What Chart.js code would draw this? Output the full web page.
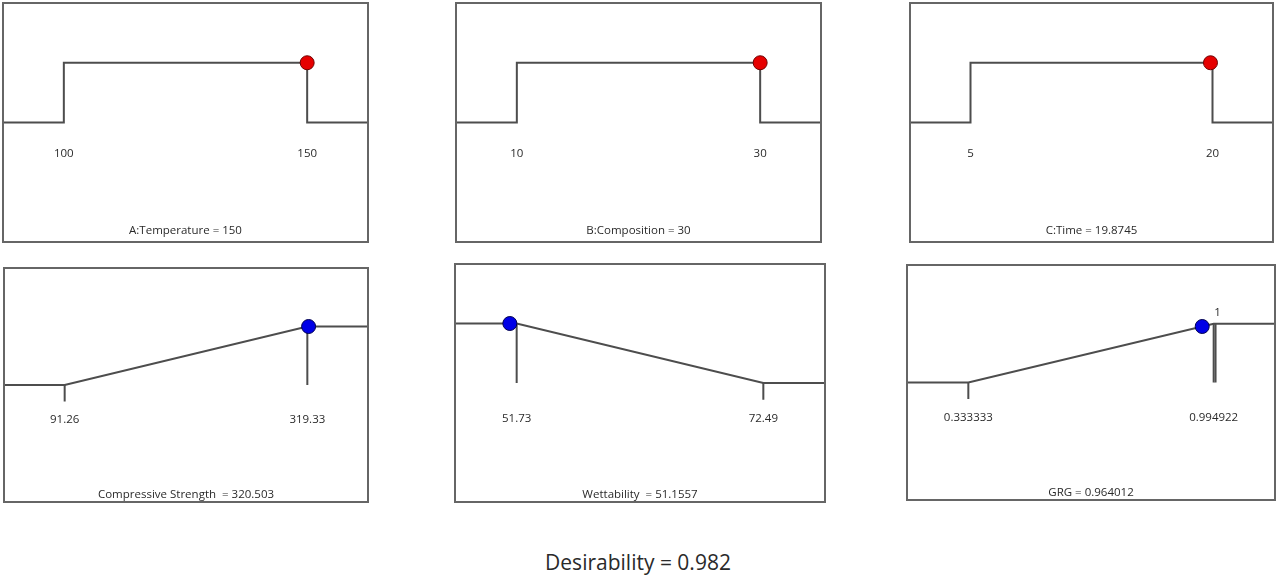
<!DOCTYPE html>
<html>
<head>
<meta charset="utf-8">
<script src="https://cdn.jsdelivr.net/npm/chart.js@4.4.1/dist/chart.umd.min.js"></script>
<style>
  html, body { margin: 0; padding: 0; background: #fff; }
  body { width: 1276px; height: 579px; position: relative; overflow: hidden; font-family: "Open Sans", sans-serif; }
  .panel { position: absolute; }
  #overall { position: absolute; left: 0; width: 1276px; top: 547px; text-align: center; font-size: 21px; line-height: 30px; color: #2a2a2a; }
</style>
</head>
<body>
<div id="overall"></div>
<script>
// Factor settings (in-range desirability ramps)
const factorNames  = ['A:Temperature', 'B:Composition', 'C:Time'];
const factorLow    = [100, 10, 5];
const factorHigh   = [150, 30, 20];
const factorValue  = [150, 30, 19.8745];

// Response goals
const responseNames  = ['Compressive Strength', 'Wettability', 'GRG'];
const responseTitles = ['Compressive Strength  = ', 'Wettability  = ', 'GRG = '];
const responseLow    = [91.26, 51.73, 0.333333];
const responseHigh   = [319.33, 72.49, 0.994922];
const responseGoal   = ['maximize', 'minimize', 'maximize'];
const responseValue  = [320.503, 51.1557, 0.964012];
const responseLimit  = [null, null, 1];

const overallDesirability = 0.982;

// Panel boxes on the page: [left, top, right, bottom]
const boxes = [
  [3, 3, 368, 242], [456, 3, 821, 242], [910, 3, 1273, 242],
  [4, 268, 368, 502], [455, 264, 825, 502], [907, 265, 1275, 500]
];

const LINE = '#4d4d4d';
const FRAME = '#666';
const TEXT = '#2a2a2a';
const PAD = 2;

function desirability(goal, low, high, v) {
  let d = goal === 'maximize' ? (v - low) / (high - low) : (high - v) / (high - low);
  return Math.max(0, Math.min(1, d));
}

function panelPlugin(spec) {
  return {
    id: 'panelDecor',
    afterDatasetsDraw(chart) {
      const { ctx, chartArea: a, scales: { x, y } } = chart;
      ctx.save();
      ctx.strokeStyle = FRAME;
      ctx.lineWidth = 2;
      ctx.strokeRect(a.left, a.top, a.right - a.left, a.bottom - a.top);
      ctx.fillStyle = TEXT;
      ctx.font = '11.5px "Open Sans", sans-serif';
      ctx.textAlign = 'center';
      ctx.textBaseline = 'middle';
      spec.labels.forEach(l => {
        ctx.fillText(l.text, x.getPixelForValue(l.x) + (l.dx || 0), y.getPixelForValue(l.y));
      });
      ctx.fillText(spec.title, (a.left + a.right) / 2, y.getPixelForValue(spec.titleY));
      ctx.restore();
    }
  };
}

function makePanel(i, spec) {
  const [l, t, r, b] = boxes[i];
  const w = r - l + PAD * 2, h = b - t + PAD * 2;
  const div = document.createElement('div');
  div.className = 'panel';
  div.style.left = (l - PAD) + 'px';
  div.style.top = (t - PAD) + 'px';
  const cv = document.createElement('canvas');
  cv.width = w; cv.height = h;
  cv.style.width = w + 'px'; cv.style.height = h + 'px';
  div.appendChild(cv);
  document.body.appendChild(div);

  const datasets = [{
    data: spec.curve, showLine: true, borderColor: LINE, borderWidth: 2,
    pointRadius: 0, clip: false, order: 2
  }];
  spec.ticks.forEach(tk => datasets.push({
    data: [{ x: tk.x, y: tk.y0 }, { x: tk.x, y: tk.y1 }], showLine: true,
    borderColor: LINE, borderWidth: 2, pointRadius: 0, clip: false, order: 2
  }));
  datasets.push({
    data: [spec.marker], pointRadius: 7, pointBackgroundColor: spec.color,
    pointBorderColor: spec.edge, pointBorderWidth: 1, clip: false, order: 0
  });

  new Chart(cv, {
    type: 'scatter',
    data: { datasets },
    options: {
      responsive: false, animation: false, events: [],
      layout: { padding: PAD, autoPadding: false },
      plugins: { legend: { display: false }, tooltip: { enabled: false } },
      scales: {
        x: { type: 'linear', display: false, min: spec.xmin, max: spec.xmax },
        y: { type: 'linear', display: false, min: -2, max: 2 }
      }
    },
    plugins: [panelPlugin(spec)]
  });
}

// Axis span: the goal interval sits in the middle two thirds of each panel
function span(low, high) {
  const p = (high - low) * 0.25;
  return [low - p, high + p];
}

factorNames.forEach((name, i) => {
  const lo = factorLow[i], hi = factorHigh[i];
  const [xmin, xmax] = span(lo, hi);
  makePanel(i, {
    xmin, xmax,
    curve: [{ x: xmin, y: 0 }, { x: lo, y: 0 }, { x: lo, y: 1 }, { x: hi, y: 1 }, { x: hi, y: 0 }, { x: xmax, y: 0 }],
    ticks: [],
    marker: { x: factorValue[i], y: 1 },
    color: '#e60000', edge: '#700000',
    labels: [{ x: lo, y: -0.52, text: String(lo) }, { x: hi, y: -0.52, text: String(hi) }],
    title: name + ' = ' + factorValue[i],
    titleY: -1.81
  });
});

responseNames.forEach((name, i) => {
  const lo = responseLow[i], hi = responseHigh[i], goal = responseGoal[i];
  const [xmin, xmax] = span(lo, hi);
  const maxi = goal === 'maximize';
  const curve = maxi
    ? [{ x: xmin, y: 0 }, { x: lo, y: 0 }, { x: hi, y: 1 }, { x: xmax, y: 1 }]
    : [{ x: xmin, y: 1 }, { x: lo, y: 1 }, { x: hi, y: 0 }, { x: xmax, y: 0 }];
  const target = maxi ? hi : lo, other = maxi ? lo : hi;
  const ticks = [{ x: target, y0: 1, y1: 0 }, { x: other, y0: 0, y1: -0.28 }];
  const labels = [{ x: lo, y: -0.6, text: String(lo) }, { x: hi, y: -0.6, text: String(hi) }];
  if (responseLimit[i] !== null) {
    ticks.push({ x: responseLimit[i], y0: 1, y1: 0 });
    labels.push({ x: responseLimit[i], y: 1.18, text: String(responseLimit[i]), dx: 2 });
  }
  const v = responseValue[i];
  makePanel(3 + i, {
    xmin, xmax, curve, ticks,
    marker: { x: v, y: desirability(goal, lo, hi, v) },
    color: '#0000e6', edge: '#000050',
    labels,
    title: responseTitles[i] + v,
    titleY: -1.87
  });
});

document.getElementById('overall').textContent = 'Desirability = ' + overallDesirability;
</script>
</body>
</html>
